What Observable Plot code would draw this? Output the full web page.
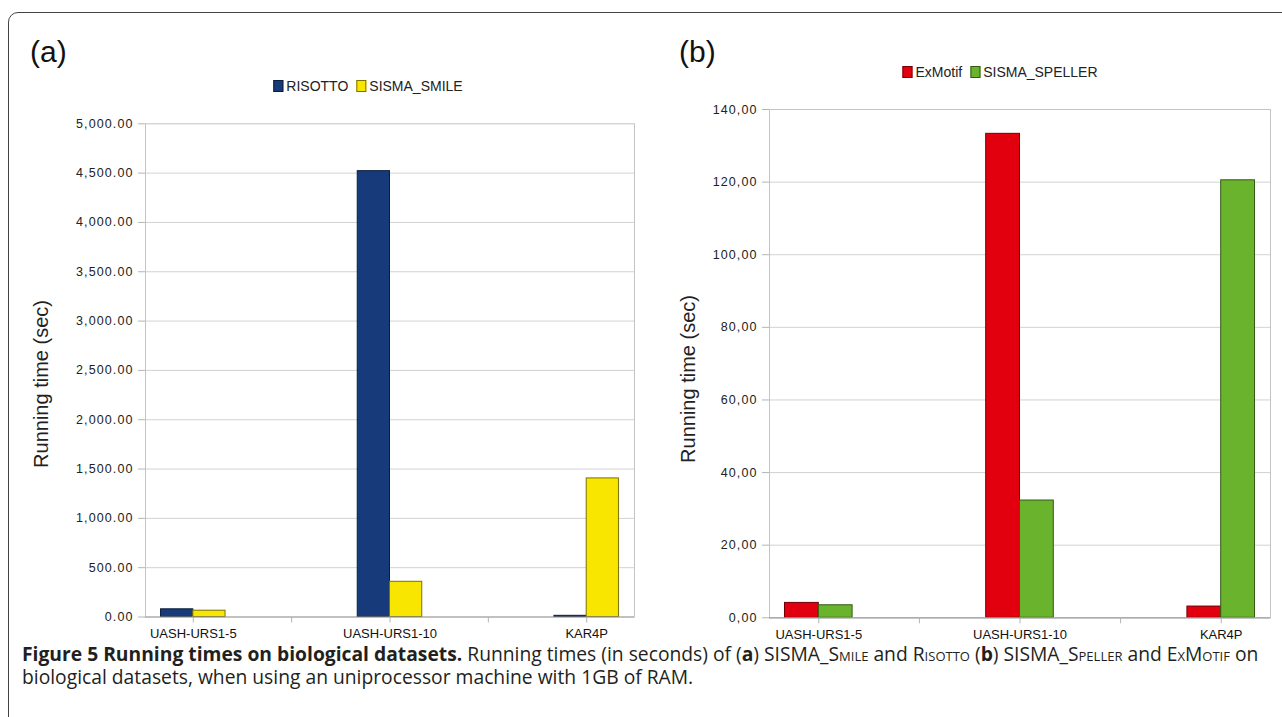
<!DOCTYPE html>
<html><head><meta charset="utf-8">
<script src="https://cdn.jsdelivr.net/npm/d3@7"></script>
<script src="https://cdn.jsdelivr.net/npm/@observablehq/plot@0.6"></script>
<style>
html,body{margin:0;padding:0;background:#fff;width:1282px;height:717px;overflow:hidden;position:relative;font-family:"Liberation Sans",Arial,sans-serif;}
#frame{position:absolute;left:8px;top:12px;width:1300px;height:730px;border:1.6px solid #444;border-radius:10px;box-sizing:border-box;}
.panel{position:absolute;height:560px;}
.panel svg{position:absolute;left:0;top:0;overflow:visible;max-width:none !important;}
.tag{position:absolute;font-size:30px;color:#111;line-height:30px;}
.legend{position:absolute;display:flex;align-items:center;font-size:14px;color:#222;transform:translate(-50%,-50%);white-space:nowrap;}
.legend .item{display:flex;align-items:center;margin:0 4px;}
.sw{display:inline-block;width:8px;height:10px;border:1px solid #222;margin-right:3px;}
.ylab{position:absolute;font-size:20px;color:#222;transform:translate(-50%,-50%) rotate(-90deg);white-space:nowrap;line-height:20px;}
.cap{position:absolute;left:22px;font-family:"Open Sans","Noto Sans",sans-serif;color:#231f20;white-space:nowrap;line-height:20px;font-size:16px;}
.sc{font-variant:small-caps;}
</style>
</head><body>
<div id="frame"></div>
<div class="tag" style="left:30px;top:37px;">(a)</div>
<div class="tag" style="left:679px;top:37px;">(b)</div>
<div id="pa" class="panel" style="left:0px;top:100px;width:640px;"></div>
<div id="pb" class="panel" style="left:640px;top:100px;width:642px;"></div>
<div id="la" class="legend" style="left:368px;top:86px;"></div>
<div id="lb" class="legend" style="left:1000px;top:72px;"></div>
<div class="ylab" style="left:40.5px;top:384px;">Running time (sec)</div>
<div class="ylab" style="left:687.5px;top:379px;">Running time (sec)</div>
<div id="cap1" class="cap" style="top:643.5px;"><b>Figure 5 Running times on biological datasets.</b> Running times (in seconds) of (<b>a</b>) SISMA_<span class="sc">Smile</span> and <span class="sc">Risotto</span> (<b>b</b>) SISMA_<span class="sc">Speller</span> and <span class="sc">ExMotif</span> on</div>
<div id="cap2" class="cap" style="top:667px;">biological datasets, when using an uniprocessor machine with 1GB of RAM.</div>
<script>
// ---- data ----
const categories = ["UASH-URS1-5", "UASH-URS1-10", "KAR4P"];

const seriesA = ["RISOTTO", "SISMA_SMILE"];
const risotto = [78, 4520, 12];
const sismaSmile = [64, 357, 1405];
const colorsA = ["#173b7a", "#f8e600"];
const yTicksA = [0, 500, 1000, 1500, 2000, 2500, 3000, 3500, 4000, 4500, 5000];

const seriesB = ["ExMotif", "SISMA_SPELLER"];
const exmotif = [4.1, 133.3, 3.1];
const sismaSpeller = [3.45, 32.3, 120.5];
const colorsB = ["#e2000f", "#6ab42d"];
const yTicksB = [0, 20, 40, 60, 80, 100, 120, 140];

function buildRows(series, valuesList) {
  const rows = [];
  categories.forEach((c, i) => series.forEach((s, j) => rows.push({cat: c, series: s, value: valuesList[j][i]})));
  return rows;
}

function makeChart(host, {rows, series, colors, yTicks, fmt, width, height, margins, pad}) {
  const strokes = colors.map(c => d3.color(c).darker(2).formatHex());
  const common = {
    width, height,
    marginLeft: margins[0], marginRight: margins[1], marginTop: margins[2], marginBottom: margins[3],
    style: {fontFamily: "'Liberation Sans', Arial, sans-serif", background: "transparent", overflow: "visible"},
    y: {domain: [yTicks[0], yTicks[yTicks.length - 1]], axis: null}
  };
  // background: grid, frame, axes
  const base = Plot.plot({
    ...common,
    x: {type: "band", domain: categories, paddingInner: pad[0], paddingOuter: pad[1], round: false, axis: null},
    marks: [
      Plot.ruleY(yTicks.slice(1, -1), {y: d => d, stroke: "#d2d2d2", strokeWidth: 1}),
      Plot.frame({stroke: "#c4c4c4"}),
      Plot.axisY({ticks: yTicks, tickFormat: fmt, tickSize: 7, tickPadding: 5,
        fontSize: 12.5, stroke: "#b4b4b4", fill: "#222", label: null}),
      Plot.axisX({anchor: "bottom", tickSize: 6, tickPadding: 6, fontSize: 13, stroke: "#b4b4b4", fill: "#111", label: null})
    ]
  });
  base.querySelectorAll("[aria-label='y-axis tick label'] text").forEach(t => t.setAttribute("letter-spacing", "1.1"));
  // bars, grouped with fx facets on the same band geometry
  const bars = Plot.plot({
    ...common,
    fx: {domain: categories, paddingInner: pad[0], paddingOuter: pad[1], round: false, axis: null, label: null},
    x: {domain: series, padding: 0, round: false, axis: null},
    marks: [
      ...series.map((s, i) => Plot.barY(rows.filter(r => r.series === s), {
        fx: "cat", x: "series", y: "value", fill: colors[i], stroke: strokes[i], strokeWidth: 1
      }))
    ]
  });
  // zero line and between-category separator ticks (same geometry in step units)
  const n = categories.length;
  const ext = pad[1] + (1 - pad[0]) / 2;
  const seps = d3.range(n - 1).map(i => i + 0.5);
  const zero = Plot.plot({
    ...common,
    x: {domain: [-ext, n - 1 + ext], axis: null},
    marks: [
      Plot.ruleY([0], {stroke: "#a0a0a0", strokeWidth: 1.2}),
      Plot.axisX({anchor: "bottom", ticks: seps, tickFormat: () => "", tickSize: 6, stroke: "#b4b4b4", label: null})
    ]
  });
  zero.querySelectorAll("[aria-label='x-axis tick label']").forEach(g => g.remove());
  host.appendChild(base);
  host.appendChild(bars);
  host.appendChild(zero);
}

const fmtA = d3.format(",.2f");
const fmtB = d => d3.format(".2f")(d).replace(".", ",");

makeChart(document.getElementById("pa"), {
  rows: buildRows(seriesA, [risotto, sismaSmile]), series: seriesA, colors: colorsA,
  yTicks: yTicksA, fmt: fmtA, width: 640, height: 560, margins: [145, 6, 23.3, 43.5], pad: [0.672, 0.079]
});
makeChart(document.getElementById("pb"), {
  rows: buildRows(seriesB, [exmotif, sismaSpeller]), series: seriesB, colors: colorsB,
  yTicks: yTicksB, fmt: fmtB, width: 642, height: 560, margins: [129, 12, 9, 42.7], pad: [0.664, 0.077]
});

function legend(id, series, colors) {
  const el = document.getElementById(id);
  series.forEach((s, i) => {
    const item = document.createElement("span");
    item.className = "item";
    const sw = document.createElement("span");
    sw.className = "sw";
    sw.style.background = colors[i];
    sw.style.borderColor = d3.color(colors[i]).darker(2).formatHex();
    item.appendChild(sw);
    item.appendChild(document.createTextNode(s));
    el.appendChild(item);
  });
}
legend("la", seriesA, colorsA);
legend("lb", seriesB, colorsB);

// fit caption width to the reference line length
function fit() {
  const c1 = document.getElementById("cap1"), c2 = document.getElementById("cap2");
  c1.style.fontSize = "16px";
  const w = c1.getBoundingClientRect().width;
  const fs = 16 * 1240 / w;
  c1.style.fontSize = fs + "px";
  c2.style.fontSize = fs + "px";
}
fit();
if (document.fonts && document.fonts.ready) document.fonts.ready.then(fit);
</script>
</body></html>
